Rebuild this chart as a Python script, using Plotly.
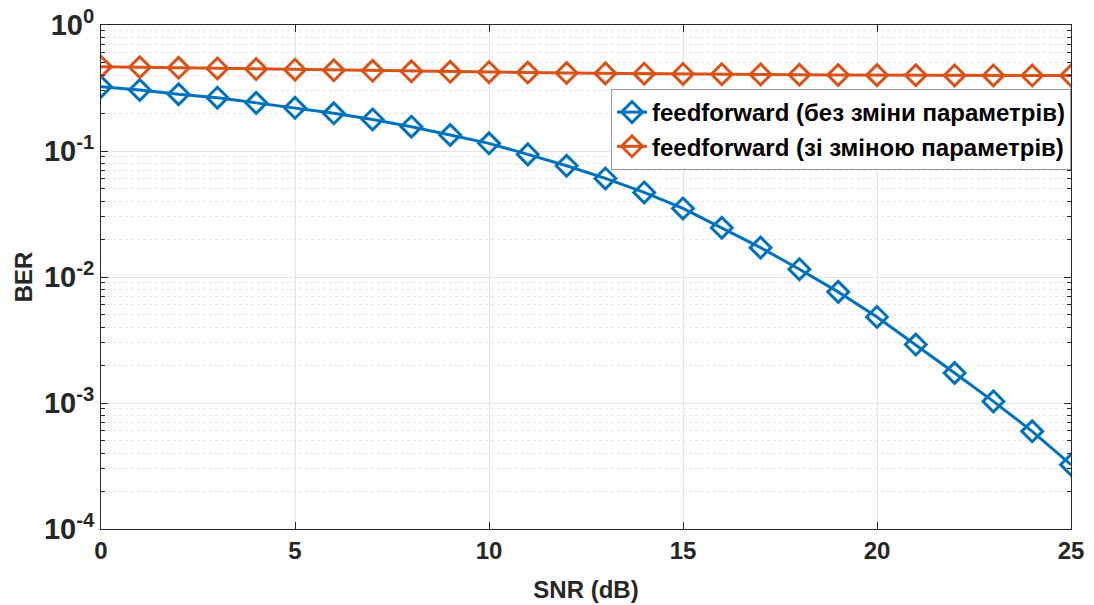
import plotly.graph_objects as go

snr = list(range(0, 26))
ber_no_change = [0.324, 0.305, 0.282, 0.265, 0.241, 0.220, 0.199, 0.178, 0.156, 0.134,
                 0.115, 0.094, 0.0763, 0.0606, 0.0469, 0.0350, 0.0246, 0.0171, 0.01153, 0.00762,
                 0.00482, 0.00291, 0.00173, 0.00103, 0.000596, 0.000324]
ber_change = [0.467, 0.462, 0.457, 0.452, 0.447, 0.442, 0.437, 0.433, 0.429, 0.425,
              0.422, 0.419, 0.416, 0.413, 0.411, 0.409, 0.407, 0.405, 0.403, 0.401,
              0.400, 0.399, 0.398, 0.398, 0.397, 0.397]
names = ["feedforward (без зміни параметрів)", "feedforward (зі зміною параметрів)"]
colors = ["#0072BD", "#D95319"]
y_tickvals = [1e-4, 1e-3, 1e-2, 1e-1, 1e0]
y_ticktext = ["10<sup>-4</sup>", "10<sup>-3</sup>", "10<sup>-2</sup>", "10<sup>-1</sup>", "10<sup>0</sup>"]
x_tickvals = [0, 5, 10, 15, 20, 25]

FONT = "Liberation Sans"
fig = go.Figure()
for ys, nm, c in zip([ber_no_change, ber_change], names, colors):
    fig.add_trace(go.Scatter(
        x=snr, y=ys, name=nm, mode="lines+markers",
        line=dict(color=c, width=3),
        marker=dict(symbol="diamond-open", size=16, color=c, line=dict(width=3, color=c)),
    ))

axis_common = dict(
    showline=True, linecolor="#262626", linewidth=1, mirror="ticks",
    ticks="inside", tickcolor="#262626", ticklen=7,
    showgrid=True, gridcolor="#e3e3e3", gridwidth=1,
    zeroline=False, automargin=False,
)

fig.update_xaxes(
    range=[0, 25], tickvals=x_tickvals,
    tickfont=dict(family=FONT, size=24, color="#262626", weight="bold"),
    title=dict(text="SNR (dB)", font=dict(family=FONT, size=24, color="#262626", weight="bold"), standoff=18),
    **axis_common,
)
fig.update_yaxes(
    type="log", range=[-4, 0], tickvals=y_tickvals, ticktext=y_ticktext,
    tickfont=dict(family=FONT, size=29, color="#262626", weight="bold"),
    title=dict(text="BER", font=dict(family=FONT, size=24, color="#262626", weight="bold"), standoff=4),
    minor=dict(dtick="D1", showgrid=True, gridcolor="#e6e6e6", griddash="dot", gridwidth=1,
               ticks="inside", ticklen=4, tickcolor="#262626"),
    **axis_common,
)

fig.update_layout(
    width=1094, height=605,
    margin=dict(l=101, r=23, t=25, b=76),
    paper_bgcolor="white", plot_bgcolor="white",
    showlegend=True,
    legend=dict(
        x=1.0, y=0.873, xanchor="right", yanchor="top",
        bgcolor="white", bordercolor="#999999", borderwidth=1,
        font=dict(family=FONT, size=24, color="#000000", weight="bold"),
        tracegroupgap=0, itemwidth=30,
    ),
)

fig.write_html("out.html")
